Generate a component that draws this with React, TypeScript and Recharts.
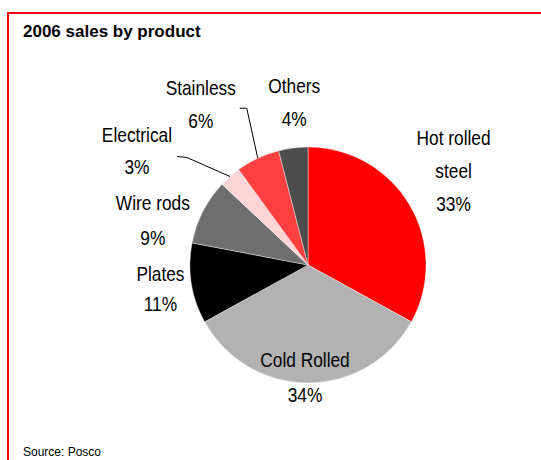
import { PieChart, Pie, Cell } from 'recharts'

const products = ['Hot rolled steel', 'Cold Rolled', 'Plates', 'Wire rods', 'Electrical', 'Stainless', 'Others']
const shares = [33, 34, 11, 9, 3, 6, 4]
const sliceColors = ['#ff0000', '#b2b2b2', '#000000', '#6e6e6e', '#ffd4d4', '#ff4040', '#4d4d4d']

// where each label sits, relative to the slice edge at its mid angle
const labelLayout = [
  { dx: 44, dy: -60, gap: 33, lines: ['Hot rolled', 'steel'] },
  { dx: -3, dy: -16, gap: 35 },
  { dx: -31, dy: -2, gap: 30 },
  { dx: -50, dy: -1, gap: 35 },
  { dx: -93, dy: -34, gap: 32, leader: [[-43, -19], [-53, -20]] },
  { dx: -57, dy: -63, gap: 33, leader: [[-11, -50], [-18, -50]] },
  { dx: 1, dy: -55, gap: 33 },
]

const data = products.map((name, i) => ({ name, value: shares[i] }))

const RADIAN = Math.PI / 180
const FONT = '"Liberation Sans", Arial, sans-serif'

function renderLabel(props: any) {
  const { cx, cy, midAngle, outerRadius, index, percent } = props
  const lay = labelLayout[index]
  const ex = cx + outerRadius * Math.cos(-midAngle * RADIAN)
  const ey = cy + outerRadius * Math.sin(-midAngle * RADIAN)
  const x = ex + lay.dx
  const y = ey + lay.dy
  const lines = [...(lay.lines ?? [products[index]]), `${Math.round(percent * 100)}%`]
  let leader = null
  if (lay.leader) {
    const pts = [[ex, ey], ...lay.leader.map(([px, py]) => [ex + px, ey + py])]
    leader = <polyline points={pts.map((p) => p.join(',')).join(' ')} fill="none" stroke="#000" strokeWidth={1} />
  }
  return (
    <g key={`lbl-${index}`}>
      {leader}
      {lines.map((t, k) => (
        <text
          key={k}
          transform={`translate(${x},${y + k * lay.gap}) scale(0.845,1)`}
          textAnchor="middle"
          fontFamily={FONT}
          fontSize={20.5}
          fill="#000"
        >
          {t}
        </text>
      ))}
    </g>
  )
}

export default function App() {
  return (
    <div style={{ position: 'absolute', left: 0, top: 0, width: 541, height: 460, background: '#fff', overflow: 'hidden' }}>
      <div style={{ position: 'absolute', left: 7, top: 12, width: 534, height: 2, background: '#ff0000' }} />
      <div style={{ position: 'absolute', left: 7, top: 12, width: 2, height: 448, background: '#ff0000' }} />
      <div
        style={{
          position: 'absolute', left: 23, top: 22, fontFamily: FONT, fontWeight: 'bold',
          fontSize: 17, lineHeight: 'normal', color: '#000', whiteSpace: 'nowrap',
        }}
      >
        2006 sales by product
      </div>
      <div
        style={{
          position: 'absolute', left: 23, top: 445, fontFamily: FONT, fontSize: 12,
          lineHeight: 'normal', color: '#000', whiteSpace: 'nowrap',
        }}
      >
        Source: Posco
      </div>
      <div style={{ position: 'absolute', left: 0, top: 0 }}>
        <PieChart width={541} height={460} margin={{ top: 0, right: 0, bottom: 0, left: 0 }}>
          <Pie
            data={data}
            dataKey="value"
            nameKey="name"
            cx={308}
            cy={265}
            outerRadius={118}
            startAngle={90}
            endAngle={-270}
            stroke="#ffffff"
            strokeWidth={0.4}
            label={renderLabel}
            labelLine={false}
            isAnimationActive={false}
          >
            {data.map((d, i) => (
              <Cell key={d.name} fill={sliceColors[i]} />
            ))}
          </Pie>
        </PieChart>
      </div>
    </div>
  )
}
